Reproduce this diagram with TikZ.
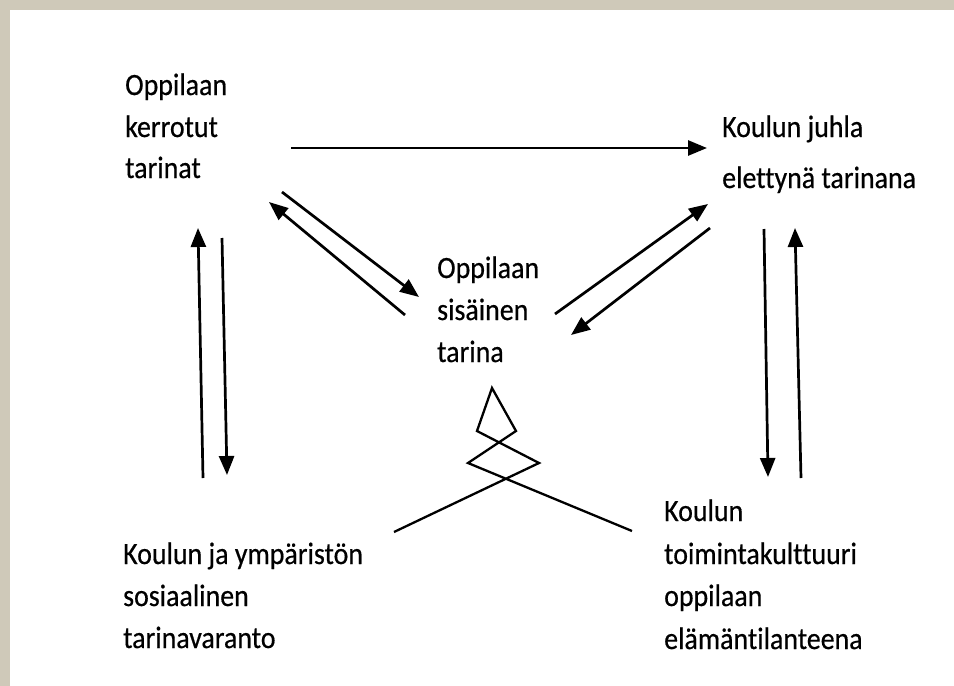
\documentclass[tikz,border=0pt]{standalone}
\usepackage{fontspec}
\setmainfont{Carlito}
\newfontfamily\lblfont[FakeStretch=0.9,FakeBold=0.5,Ligatures=NoCommon]{Carlito}
\usetikzlibrary{arrows.meta}
\definecolor{frame}{HTML}{CFC9B9}
\tikzset{
  lbl/.style={anchor=base west, inner sep=0pt, font=\lblfont\fontsize{31}{36}\selectfont},
  arr/.style={line width=2.7pt, -{Triangle[length=19pt,width=15pt]}},
  zig/.style={line width=2.3pt, line join=miter}
}
\begin{document}
\begin{tikzpicture}[x=1pt,y=-1pt]
\useasboundingbox (0,0) rectangle (954,686);
\fill[frame] (0,0) rectangle (954,686);
\fill[white] (10,10) rectangle (954,686);
% texts
\node[lbl] (a1) at (125,95) {Oppilaan};
\node[lbl] (a2) at (125,137) {kerrotut};
\node[lbl] (a3) at (125,178) {tarinat};
\node[lbl] (b1) at (722,137) {Koulun juhla};
\node[lbl] (b2) at (722,188) {elettynä tarinana};
\node[lbl] (c1) at (437,278) {Oppilaan};
\node[lbl] (c2) at (437,320) {sisäinen};
\node[lbl] (c3) at (437,362) {tarina};
\node[lbl] (d1) at (123,564) {Koulun ja ympäristön};
\node[lbl] (d2) at (123,606) {sosiaalinen};
\node[lbl] (d3) at (123,648) {tarinavaranto};
\node[lbl] (e1) at (664,521) {Koulun};
\node[lbl] (e2) at (664,564) {toimintakulttuuri};
\node[lbl] (e3) at (664,606) {oppilaan};
\node[lbl] (e4) at (664,649) {elämäntilanteena};
% arrow end points
\coordinate (h0) at (291,148); \coordinate (h1) at (707,148);
\coordinate (l0) at (282,192); \coordinate (l1) at (419,297);
\coordinate (m0) at (405,315); \coordinate (m1) at (269,202);
\coordinate (r0) at (555,314); \coordinate (r1) at (708,204);
\coordinate (s0) at (710,228); \coordinate (s1) at (571,335);
\coordinate (u0) at (203,478); \coordinate (u1) at (198,228);
\coordinate (v0) at (222,238); \coordinate (v1) at (227,475);
\coordinate (w0) at (764,229); \coordinate (w1) at (768,477);
\coordinate (x0) at (801,478); \coordinate (x1) at (795,228);
\draw[arr] (h0) -- (h1);
\draw[arr] (l0) -- (l1);
\draw[arr] (m0) -- (m1);
\draw[arr] (r0) -- (r1);
\draw[arr] (s0) -- (s1);
\draw[arr] (u0) -- (u1);
\draw[arr] (v0) -- (v1);
\draw[arr] (w0) -- (w1);
\draw[arr] (x0) -- (x1);
% zigzag
\coordinate (z0) at (394,532);
\coordinate (z1) at (539,463);
\coordinate (z2) at (477,431);
\coordinate (z3) at (492,388);
\coordinate (z4) at (516,431);
\coordinate (z5) at (468,463);
\coordinate (z6) at (632,531);
\draw[zig] (z0) -- (z1) -- (z2) -- (z3) -- (z4) -- (z5) -- (z6);
\end{tikzpicture}
\end{document}
